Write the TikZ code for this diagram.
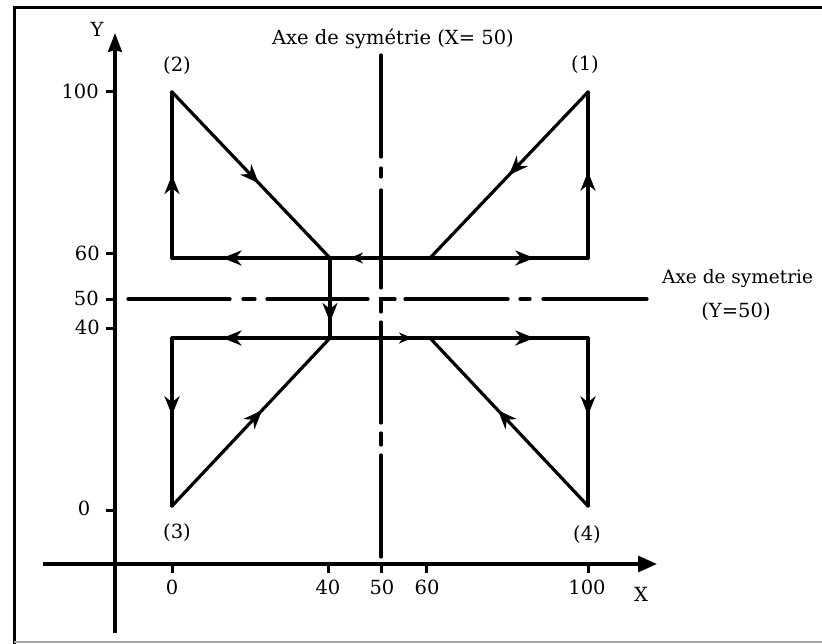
\documentclass[tikz,border=0pt]{standalone}
\usepackage{fontspec}
\setmainfont{DejaVu Serif}
\usetikzlibrary{arrows.meta,decorations.markings}
\begin{document}
\begin{tikzpicture}[x=1pt,y=-1pt,
  lbl/.style={font=\fontsize{19.5}{21}\selectfont, inner sep=0pt},
  seg/.style={line width=3.2pt, line cap=round, line join=miter},
  axe/.style={line width=3.2pt, line cap=butt},
  sym/.style={line width=3.2pt, line cap=round},
  midarr/.style={postaction={decorate, decoration={markings, mark=at position #1 with {\arrow{Stealth[length=19pt,width=15pt,inset=6pt]}}}}},
  smallarr/.style={postaction={decorate, decoration={markings, mark=at position #1 with {\arrow{Stealth[length=13pt,width=11pt,inset=4pt]}}}}}
]
\useasboundingbox (0,0) rectangle (822,643);
% frame
\draw[line width=3pt] (824,7) -- (14,7) -- (14,645);
\draw[gray!70, line width=1.2pt] (14,642) -- (824,642);

% axes
\coordinate (ybot) at (115,633);
\coordinate (ytop) at (115,33);
\coordinate (xl) at (43,564);
\coordinate (xr) at (657,564);
\draw[axe, -{Stealth[length=19pt,width=14pt,inset=2pt]}] (ybot) -- (ytop);
\draw[axe, -{Triangle[length=19pt,width=16pt]}] (xl) -- (xr);
\foreach \yy in {91,253,299,328,510} \draw[line width=3pt] (106,\yy) -- (115,\yy);
\foreach \xx in {172,328,381,426,588} \draw[line width=3pt] (\xx,564) -- (\xx,573);

% axis labels
\node[lbl] (ylab) at (97,29) {Y};
\node[lbl] (xlab) at (641,594) {X};
\node[lbl, anchor=east] (y100) at (99,91) {100};
\node[lbl, anchor=east] (y60) at (100,253) {60};
\node[lbl, anchor=east] (y50) at (99,298) {50};
\node[lbl, anchor=east] (y40) at (100,327) {40};
\node[lbl] (y0) at (84,508) {0};
\node[lbl] (x0) at (172,587) {0};
\node[lbl] (x40) at (328,587) {40};
\node[lbl] (x50) at (382,587) {50};
\node[lbl] (x60) at (427,587) {60};
\node[lbl] (x100) at (587,587) {100};

% symmetry axes
\draw[sym] (128,299) -- (230,299);
\draw[sym] (243,299) -- (255,299);
\draw[sym] (267,299) -- (368,299);
\draw[sym] (395,299) -- (381,299) -- (381,312);
\draw[sym] (405,299) -- (508,299);
\draw[sym] (520,299) -- (530,299);
\draw[sym] (543,299) -- (647,299);
\draw[sym] (381,55) -- (381,157);
\draw[sym] (381,168) -- (381,177);
\draw[sym] (381,190) -- (381,288);
\draw[sym] (381,322) -- (381,423);
\draw[sym] (381,433) -- (381,445);
\draw[sym] (381,455) -- (381,557);

\node[lbl] (titre) at (393,39) {Axe de symétrie (X= 50)};
\node[lbl, font=\fontsize{18.5}{20}\selectfont, anchor=west] (axeh) at (662,279) {Axe de symetrie};
\node[lbl] (axehb) at (736,312) {(Y=50)};

% points
\coordinate (P2) at (172,92);
\coordinate (P1) at (588,92);
\coordinate (P3) at (172,506);
\coordinate (P4) at (588,506);
\coordinate (A) at (330,258);
\coordinate (B) at (430,258);
\coordinate (UL) at (172,258);
\coordinate (UR) at (588,258);
\coordinate (C) at (330,338);
\coordinate (D) at (430,338);
\coordinate (LL) at (172,338);
\coordinate (LR) at (588,338);

\node[lbl] (n2) at (177,66) {(2)};
\node[lbl] (n1) at (585,65) {(1)};
\node[lbl] (n3) at (177,533) {(3)};
\node[lbl] (n4) at (587,535) {(4)};

% trajectories
\draw[seg, midarr=0.55] (P2) -- (A);
\draw[seg, midarr=0.50] (UL) -- (P2);
\draw[seg, midarr=0.68] (A) -- (UL);
\draw[seg, smallarr=0.80] (B) -- (A);
\draw[seg, midarr=0.66] (B) -- (UR);
\draw[seg, midarr=0.52] (UR) -- (P1);
\draw[seg, midarr=0.50] (P1) -- (B);
\draw[seg, midarr=0.80] (A) -- (C);
\draw[seg, midarr=0.68] (C) -- (LL);
\draw[seg, smallarr=0.82] (C) -- (D);
\draw[seg, midarr=0.66] (D) -- (LR);
\draw[seg, midarr=0.46] (LL) -- (P3);
\draw[seg, midarr=0.57] (P3) -- (C);
\draw[seg, midarr=0.46] (LR) -- (P4);
\draw[seg, midarr=0.57] (P4) -- (D);
\end{tikzpicture}
\end{document}
